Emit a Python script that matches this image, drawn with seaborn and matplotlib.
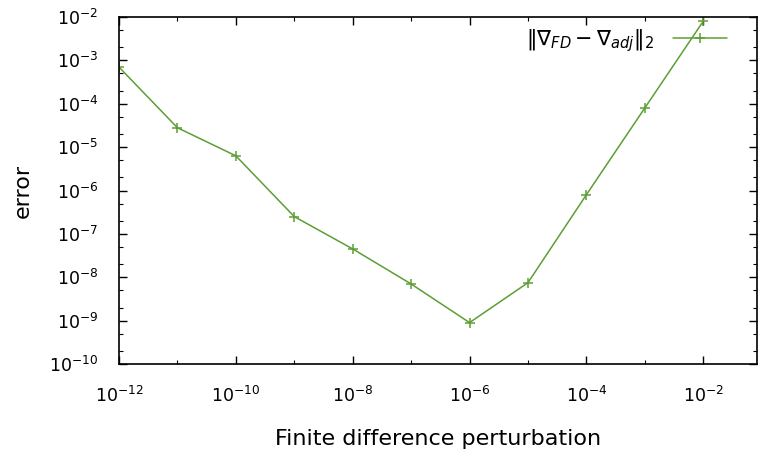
import numpy as np
import pandas as pd
import matplotlib
matplotlib.use("Agg")
import matplotlib.pyplot as plt
import matplotlib.ticker as mticker
import seaborn as sns

perturbation = [1e-12, 1e-11, 1e-10, 1e-9, 1e-8, 1e-7, 1e-6, 1e-5, 1e-4, 1e-3, 1e-2]
error = [7e-4, 2.8e-5, 6.3e-6, 2.5e-7, 4.5e-8, 7e-9, 9e-10, 7.5e-9, 8e-7, 8e-5, 8e-3]
series_label = r"$\|\nabla_{FD} - \nabla_{adj}\|_2$"
xlabel = "Finite difference perturbation"
ylabel = "error"

sns.set_style("ticks")
plt.rcParams["font.family"] = ["DejaVu Sans"]
plt.rcParams["mathtext.fontset"] = "dejavusans"
plt.rcParams["text.color"] = "black"
plt.rcParams["axes.labelcolor"] = "black"
plt.rcParams["xtick.color"] = "black"
plt.rcParams["ytick.color"] = "black"

df = pd.DataFrame({"h": perturbation, "err": error})

fig = plt.figure(figsize=(7.59, 4.49), dpi=100)
ax = fig.add_axes([119/759, (449-364)/449, (757-119)/759, (364-17)/449])
color = "#5c9e35"
sns.lineplot(data=df, x="h", y="err", ax=ax, color=color, marker="+",
             markersize=6.5, markeredgewidth=1.1, markeredgecolor=color,
             linewidth=1.1, label=series_label)
ax.set_xscale("log")
ax.set_yscale("log")
ax.set_xlim(1e-12, 10**(-1.08))
ax.set_ylim(1e-10, 1e-2)

ax.xaxis.set_major_locator(mticker.FixedLocator([1e-12, 1e-10, 1e-8, 1e-6, 1e-4, 1e-2]))
ax.xaxis.set_minor_locator(mticker.FixedLocator([1e-11, 1e-9, 1e-7, 1e-5, 1e-3, 1e-1]))
ax.xaxis.set_minor_formatter(mticker.NullFormatter())
ax.yaxis.set_major_locator(mticker.LogLocator(base=10, numticks=20))
ax.yaxis.set_minor_locator(mticker.LogLocator(base=10, subs=(2, 5), numticks=20))
ax.yaxis.set_minor_formatter(mticker.NullFormatter())

ax.tick_params(which="both", direction="in", top=True, right=True, labelsize=12.5,
               color="black", labelcolor="black")
ax.tick_params(which="major", length=6, width=1)
ax.tick_params(which="minor", length=3, width=0.8)
ax.tick_params(axis="x", which="major", pad=16)
ax.tick_params(axis="y", which="major", pad=15)
for s in ax.spines.values():
    s.set_linewidth(1.2)
    s.set_color("black")

ax.set_xlabel(xlabel, fontsize=16, labelpad=16)
ax.set_ylabel(ylabel, fontsize=16, labelpad=12)

leg = ax.legend(loc="upper right", bbox_to_anchor=(0.982, 1.025), frameon=False,
                fontsize=15, markerfirst=False, handlelength=2.6, handletextpad=0.9)

fig.savefig("out.png", dpi=100)
